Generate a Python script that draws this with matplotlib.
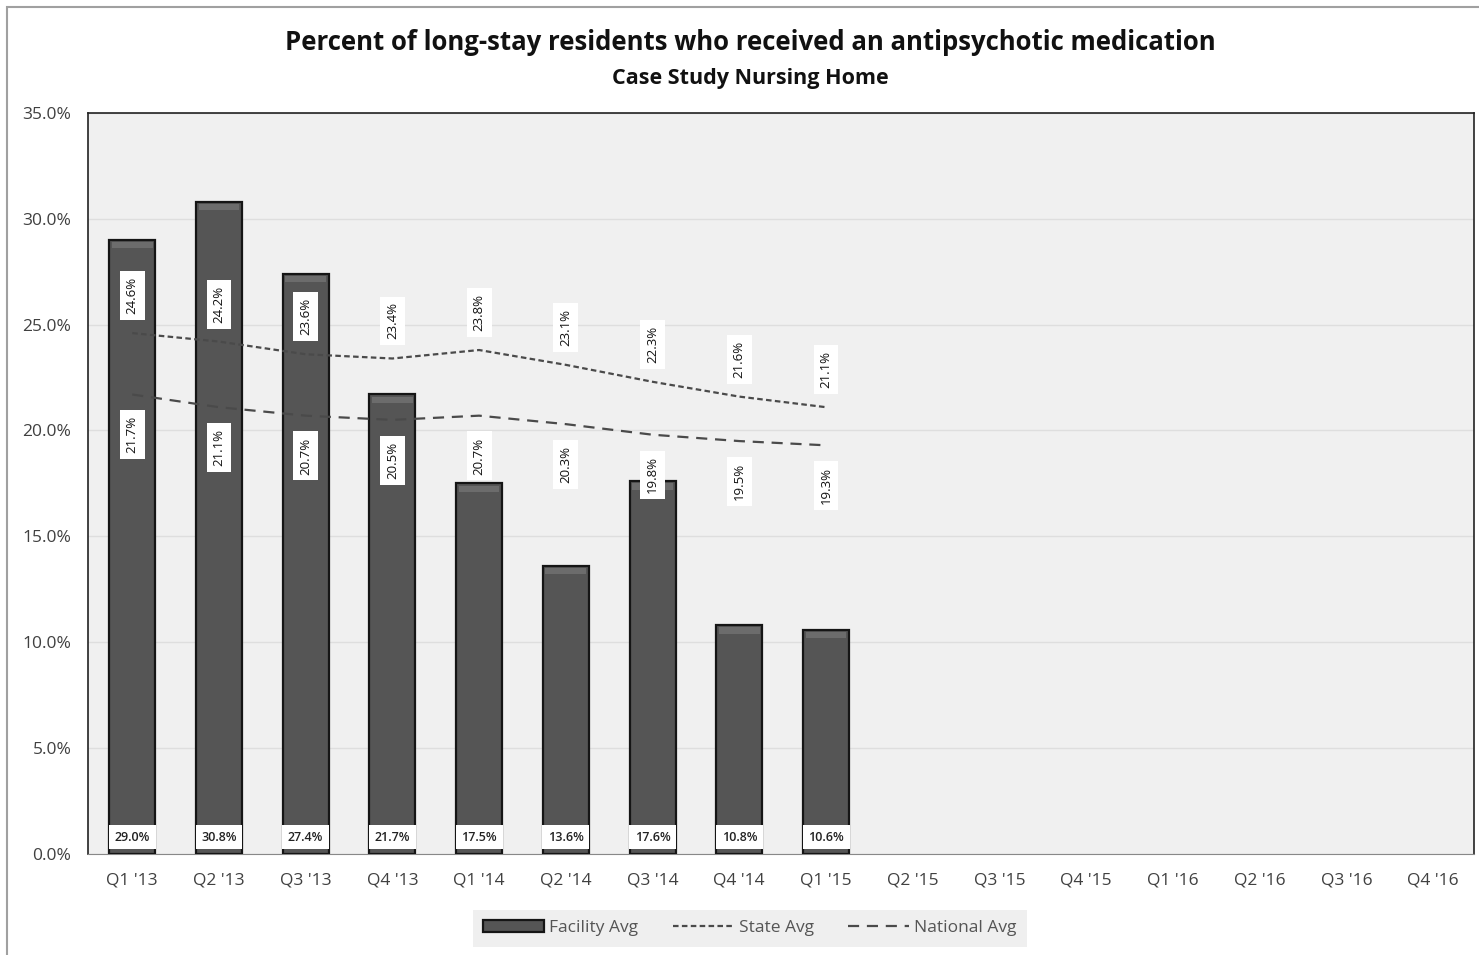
import matplotlib.pyplot as plt
import numpy as np
from matplotlib.patches import Rectangle
from matplotlib.ticker import FuncFormatter

plt.rcParams['font.family'] = ['Open Sans', 'DejaVu Sans']

# quarters on the x axis
quarters = ["Q1 '13", "Q2 '13", "Q3 '13", "Q4 '13", "Q1 '14", "Q2 '14", "Q3 '14", "Q4 '14",
            "Q1 '15", "Q2 '15", "Q3 '15", "Q4 '15", "Q1 '16", "Q2 '16", "Q3 '16", "Q4 '16"]
# percent values (only the first 9 quarters have data)
facility = [29.0, 30.8, 27.4, 21.7, 17.5, 13.6, 17.6, 10.8, 10.6]
state = [24.6, 24.2, 23.6, 23.4, 23.8, 23.1, 22.3, 21.6, 21.1]
national = [21.7, 21.1, 20.7, 20.5, 20.7, 20.3, 19.8, 19.5, 19.3]

fig = plt.figure(figsize=(14.79, 9.55), dpi=100)
ax = fig.add_axes([0.0595, 0.1058, 0.937, 0.776])
ax.set_facecolor('#f0f0f0')

x_all = np.arange(len(quarters))
x = np.arange(len(facility))

# bars
ax.bar(x, facility, width=0.53, color='#555555', edgecolor='#151515', linewidth=1.6,
       label='Facility Avg', zorder=3)
# soft lighter band at the top of each bar
for xi, v in zip(x, facility):
    ax.bar(xi, 0.3, bottom=v - 0.4, width=0.47, color='#6c6c6c', linewidth=0, zorder=3.5)
    ax.text(xi, 0.8, f'{v:.1f}%', ha='center', va='center', fontsize=9, fontweight='semibold',
            color='#222222', zorder=6,
            bbox=dict(boxstyle='square,pad=0.45', fc='white', ec='none'))

# average lines
ax.plot(x, state, linestyle=(0, (2.5, 1.5)), color='#4a4a4a', linewidth=1.6, label='State Avg', zorder=4)
ax.plot(x, national, linestyle=(0, (5, 3.5)), color='#4a4a4a', linewidth=1.6, label='National Avg', zorder=4)

for xi, v in zip(x, state):
    ax.annotate(f'{v:.1f}%', (xi, v), xytext=(0, 27), textcoords='offset points', rotation=90,
                ha='center', va='center', fontsize=9.5, color='#111111', zorder=6,
                bbox=dict(boxstyle='square,pad=0.45', fc='white', ec='none'))
for xi, v in zip(x, national):
    ax.annotate(f'{v:.1f}%', (xi, v), xytext=(0, -29), textcoords='offset points', rotation=90,
                ha='center', va='center', fontsize=9.5, color='#111111', zorder=6,
                bbox=dict(boxstyle='square,pad=0.45', fc='white', ec='none'))

ax.set_xlim(-0.51, 15.47)
ax.set_ylim(0, 35)
ax.set_xticks(x_all)
ax.set_xticklabels(quarters)
ax.set_yticks(np.arange(0, 36, 5))
ax.yaxis.set_major_formatter(FuncFormatter(lambda v, p: f'{v:.1f}%'))
ax.tick_params(axis='both', length=0, labelsize=12.5, colors='#404040')
ax.tick_params(axis='x', pad=13)
ax.tick_params(axis='y', pad=12)
ax.grid(axis='y', color='#dedede', linewidth=1, zorder=0)
ax.set_axisbelow(True)
for side in ['top', 'right', 'left']:
    ax.spines[side].set_color('#222222')
    ax.spines[side].set_linewidth(1.2)
ax.spines['bottom'].set_color('#888888')

fig.text(0.507, 0.955, 'Percent of long-stay residents who received an antipsychotic medication',
         ha='center', va='center', fontsize=18.5, fontweight='bold', color='#111111')
fig.text(0.507, 0.918, 'Case Study Nursing Home', ha='center', va='center',
         fontsize=15.5, fontweight='bold', color='#111111')

handles, labels = ax.get_legend_handles_labels()
order = [labels.index(n) for n in ['Facility Avg', 'State Avg', 'National Avg']]
leg = fig.legend([handles[i] for i in order], [labels[i] for i in order],
                 loc='center', bbox_to_anchor=(0.507, 0.028), ncol=3, frameon=True,
                 fontsize=12.5, handlelength=3.5, columnspacing=2.0, handletextpad=0.3)
leg.get_frame().set_facecolor('#ececec')
leg.get_frame().set_edgecolor('none')
leg.get_frame().set_boxstyle('square,pad=0.2')
for t in leg.get_texts():
    t.set_color('#555555')

# outer frame of the chart
fig.patches.append(Rectangle((7 / 1479, -0.02), 1.02, 1 - 7 / 955 + 0.02, transform=fig.transFigure,
                             fill=False, edgecolor='#a0a0a0', linewidth=1.5))

fig.savefig('out.png', dpi=100)
